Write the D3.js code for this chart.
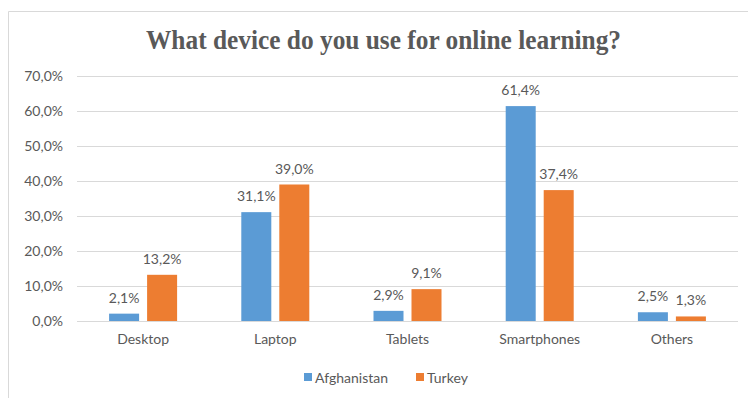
<!DOCTYPE html>
<html>
<head>
<meta charset="utf-8">
<script src="https://cdn.jsdelivr.net/npm/d3@7"></script>
<style>
  html, body { margin: 0; padding: 0; background: #fff; }
  svg { display: block; }
  text { font-family: Lato, "Open Sans", sans-serif; fill: #595959; }
</style>
</head>
<body>
<svg id="chart" width="748" height="398"></svg>
<script>
// Survey responses: share of students per device type
const categories = ["Desktop", "Laptop", "Tablets", "Smartphones", "Others"];
const seriesNames = ["Afghanistan", "Turkey"];
const afghanistan = [2.1, 31.1, 2.9, 61.4, 2.5];
const turkey = [13.2, 39.0, 9.1, 37.4, 1.3];
const yTicks = [0, 10, 20, 30, 40, 50, 60, 70];
const colors = ["#5B9BD5", "#ED7D31"];
const title = "What device do you use for online learning?";

const series = [afghanistan, turkey];
const fmt = v => v.toFixed(1).replace(".", ",") + "%";

const svg = d3.select("#chart");

// chart area frame
svg.append("path")
  .attr("d", "M8.5,398 V11.5 H748")
  .attr("fill", "none")
  .attr("stroke", "#D9D9D9")
  .attr("stroke-width", 1);

svg.append("text")
  .attr("x", 146).attr("y", 49)
  .attr("textLength", 475)
  .attr("lengthAdjust", "spacingAndGlyphs")
  .style("font-family", "'Liberation Serif', 'Times New Roman', serif")
  .style("font-weight", "bold")
  .style("font-size", "27px")
  .text(title);

const x0 = d3.scaleBand().domain(categories).range([77, 738]).padding(0);
const x1 = d3.scaleBand().domain(seriesNames).range([-34, 34]).paddingInner(8 / 38).paddingOuter(0);
const y = d3.scaleLinear().domain([0, 70]).range([321, 76]);

// gridlines
svg.append("g").selectAll("line").data(yTicks).join("line")
  .attr("x1", 77).attr("x2", 738)
  .attr("y1", d => Math.round(y(d)) + 0.5).attr("y2", d => Math.round(y(d)) + 0.5)
  .attr("stroke", "#D9D9D9").attr("stroke-width", 1);

// y axis labels
const yAxis = d3.axisLeft(y).tickValues(yTicks).tickSize(0).tickPadding(0).tickFormat(fmt);
const gy = svg.append("g").attr("transform", "translate(63,0)").call(yAxis);
gy.select(".domain").remove();
gy.selectAll("text").style("font-size", "14px").attr("fill", "#595959")
  .style("font-family", "Lato, 'Open Sans', sans-serif");

// x axis labels
const xAxis = d3.axisBottom(x0).tickSize(0).tickPadding(0);
const gx = svg.append("g").attr("transform", "translate(0,334)").call(xAxis);
gx.select(".domain").remove();
gx.selectAll("text").style("font-size", "14px").attr("fill", "#595959")
  .style("font-family", "Lato, 'Open Sans', sans-serif");

// bars
const groups = svg.append("g").selectAll("g").data(categories).join("g")
  .attr("transform", c => `translate(${x0(c) + x0.bandwidth() / 2},0)`);

groups.each(function (c, i) {
  const g = d3.select(this);
  seriesNames.forEach((s, k) => {
    const v = series[k][i];
    g.append("rect")
      .attr("x", x1(s)).attr("width", x1.bandwidth())
      .attr("y", y(v)).attr("height", y(0) - y(v))
      .attr("fill", colors[k]);
    g.append("text")
      .attr("x", x1(s) + x1.bandwidth() / 2)
      .attr("y", y(v) - 11)
      .attr("text-anchor", "middle")
      .style("font-size", "14px")
      .text(fmt(v));
  });
});

// legend
const legend = svg.append("g").attr("transform", "translate(0,378)");
const legendX = [304, 416];
seriesNames.forEach((s, k) => {
  legend.append("rect").attr("x", legendX[k]).attr("y", -5).attr("width", 8).attr("height", 8).attr("fill", colors[k]);
  legend.append("text").attr("x", legendX[k] + 11).attr("y", 5).style("font-size", "14px").text(s);
});
</script>
</body>
</html>
